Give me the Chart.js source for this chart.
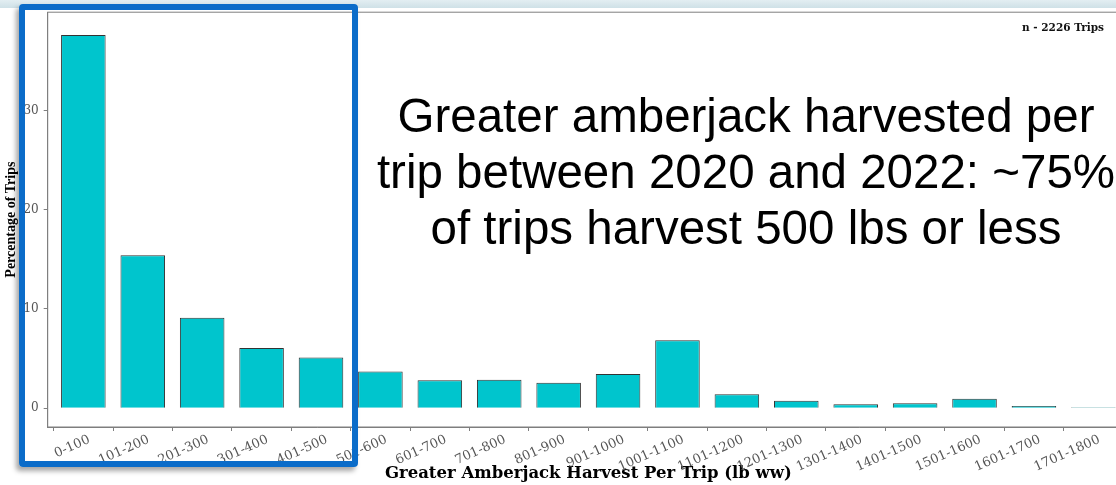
<!DOCTYPE html>
<html>
<head>
<meta charset="utf-8">
<script src="https://cdn.jsdelivr.net/npm/chart.js@4.4.0/dist/chart.umd.min.js"></script>
<style>
  html, body { margin: 0; padding: 0; background: #fff; overflow: hidden; width: 1116px; height: 485px; }
  #topStrip { position: absolute; left: 0; top: 0; width: 1116px; height: 8px; background: linear-gradient(#e3eef2, #cfe1e7); z-index: 2; }
  #chartBox { position: absolute; left: 0; top: 0; width: 1140px; height: 485px; }
  #callout { position: absolute; left: 346px; top: 88px; width: 800px; text-align: center; font-family: "Liberation Sans", Arial, sans-serif; font-size: 47.5px; line-height: 56px; color: #000; z-index: 3; }
  #nTrips { position: absolute; right: 12px; top: 21px; font-family: "DejaVu Serif", serif; font-weight: bold; font-size: 10.5px; color: #111; z-index: 3; }
  #highlight { position: absolute; left: 19px; top: 4px; width: 339px; height: 463px; box-sizing: border-box; border: 6px solid #0b6cc9; border-radius: 4px; box-shadow: -3px 4px 5px rgba(0,0,0,0.35); z-index: 4; }
</style>
</head>
<body>
<div id="topStrip"></div>
<div id="chartBox"><canvas id="harvestChart"></canvas></div>
<div id="callout">Greater amberjack harvested per<br>trip between 2020 and 2022: ~75%<br>of trips harvest 500 lbs or less</div>
<div id="nTrips">n - 2226 Trips</div>
<div id="highlight"></div>
<script>
const harvestBins = ['0-100', '101-200', '201-300', '301-400', '401-500', '501-600',
  '601-700', '701-800', '801-900', '901-1000', '1001-1100', '1101-1200',
  '1201-1300', '1301-1400', '1401-1500', '1501-1600', '1601-1700', '1701-1800'];
const tripPercent = [37.6, 15.4, 9.1, 6.05, 5.1, 3.7, 2.8, 2.85, 2.55, 3.45,
  6.85, 1.4, 0.75, 0.4, 0.5, 0.95, 0.22, 0.1];
const yTicks = [0, 10, 20, 30];

// ggplot style panel frame
const panelFrame = {
  id: 'panelFrame',
  afterDraw(chart) {
    const { ctx, chartArea } = chart;
    ctx.save();
    ctx.strokeStyle = '#7f7f7f';
    ctx.lineWidth = 1;
    ctx.strokeRect(chartArea.left, chartArea.top, chartArea.right - chartArea.left, chartArea.bottom - chartArea.top);
    ctx.restore();
  }
};

const ctx = document.getElementById('harvestChart').getContext('2d');
new Chart(ctx, {
  type: 'bar',
  data: {
    datasets: [{
      data: tripPercent.map((v, i) => ({ x: i, y: v })),
      backgroundColor: '#00c5cd',
      borderColor: '#333',
      borderWidth: 1,
      barPercentage: 0.75,
      categoryPercentage: 1
    }]
  },
  plugins: [panelFrame],
  options: {
    responsive: true,
    maintainAspectRatio: false,
    animation: false,
    layout: { padding: { top: 9, right: 11, left: 0, bottom: 0 } },
    plugins: { legend: { display: false }, tooltip: { enabled: false } },
    scales: {
      x: {
        type: 'linear',
        offset: false,
        min: -0.6,
        max: 17.6,
        afterBuildTicks: scale => { scale.ticks = harvestBins.map((_, i) => ({ value: i })); },
        afterFit: scale => { scale.height = 58; },
        grid: { display: true, drawOnChartArea: false, drawTicks: true, tickLength: 4, color: '#7f7f7f' },
        border: { display: true, color: '#7f7f7f' },
        ticks: {
          minRotation: 24,
          maxRotation: 24,
          autoSkip: false,
          padding: 1,
          labelOffset: 6,
          color: '#555',
          font: { family: 'DejaVu Serif', size: 13 },
          callback: value => harvestBins[value]
        },
        title: {
          display: true,
          text: 'Greater Amberjack Harvest Per Trip (lb ww)',
          color: '#000',
          font: { family: 'DejaVu Serif', size: 16.5, weight: 'bold' },
          padding: { top: 0, bottom: 1 }
        }
      },
      y: {
        min: -1.9,
        max: 39.9,
        afterBuildTicks: scale => { scale.ticks = yTicks.map(v => ({ value: v })); },
        afterFit: scale => { scale.width = 47.7; },
        grid: { display: true, drawOnChartArea: false, drawTicks: true, tickLength: 4, color: '#7f7f7f' },
        border: { display: true, color: '#7f7f7f' },
        ticks: {
          padding: 5,
          color: '#555',
          font: { family: 'DejaVu Serif', size: 12 }
        },
        title: {
          display: true,
          text: 'Percentage of Trips',
          color: '#000',
          font: { family: 'Liberation Serif', size: 14, weight: 'bold' },
          padding: { top: 3, bottom: 0 }
        }
      }
    }
  }
});
</script>
</body>
</html>
